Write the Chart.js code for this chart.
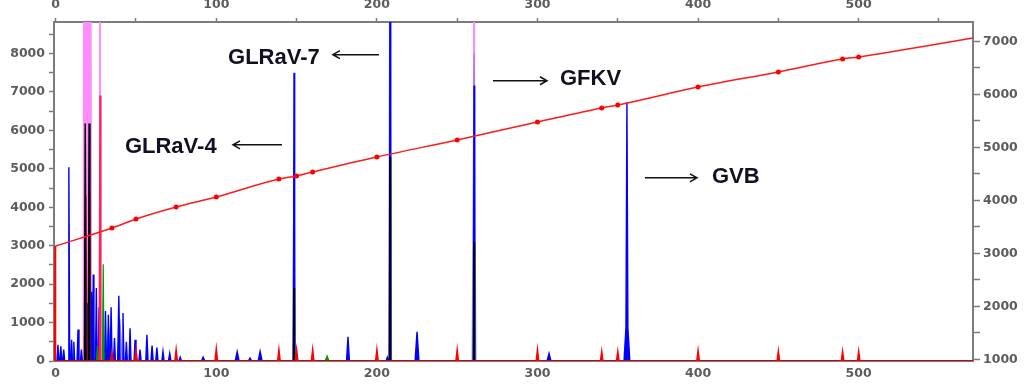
<!DOCTYPE html>
<html>
<head>
<meta charset="utf-8">
<script src="https://cdn.jsdelivr.net/npm/chart.js@4.4.1/dist/chart.umd.min.js"></script>
<style>
  html, body { margin: 0; padding: 0; background: #fff; overflow: hidden; }
  #wrap { position: relative; width: 1036px; height: 384px; overflow: hidden; }
  canvas { position: absolute; left: 0; top: -5px; }
</style>
</head>
<body>
<div id="wrap"><canvas id="cv" width="1036" height="389"></canvas></div>
<script>
// size standard fragments (bp) and the scan where each was seen
const sizeStd = [35, 50, 75, 100, 139, 150, 160, 200, 250, 300, 340, 350, 400, 450, 490, 500];
const sizeScan = [3477, 3647, 3874, 4062, 4402, 4460, 4534, 4817, 5138, 5477, 5742, 5798, 6138, 6421, 6666, 6704];
const stdHeight = [230, 300, 300, 320, 300, 300, 300, 300, 300, 300, 250, 250, 280, 260, 250, 260];
const curveStart = [0, 3138];
const curveEnd = [571, 7062];

// peaks: [size bp, height rfu, half width bp]
const bluePeaks = [
  [1.4, 420, 0.6], [3.2, 380, 0.6], [5.0, 300, 0.6], [8.2, 5040, 0.5],
  [9.9, 550, 0.5], [11.3, 500, 0.5], [13.9, 820, 0.6], [16.0, 300, 0.6],
  [19.8, 1500, 0.5], [22.3, 1800, 0.5], [23.4, 2250, 0.4], [25.3, 1900, 0.5],
  [27.0, 1400, 0.5], [31.0, 1300, 0.6], [32.8, 1200, 0.5], [34.5, 1400, 0.6],
  [36.6, 600, 0.6], [39.3, 1700, 0.7], [41.9, 1250, 0.6], [44.0, 500, 0.6],
  [46.3, 850, 0.6], [49.4, 550, 0.6], [52.5, 300, 0.7], [56.8, 680, 0.7],
  [60.0, 400, 0.7], [63.0, 350, 0.7], [66.8, 250, 0.7], [71.0, 200, 0.8],
  [77.5, 100, 0.8], [91.8, 100, 1.0], [113.0, 240, 1.2], [121.0, 80, 1.0],
  [127.3, 250, 1.2], [148.4, 7500, 0.4], [182.0, 630, 0.9], [206.5, 100, 0.8],
  [208.2, 12000, 0.4], [225.0, 760, 1.2], [260.5, 7170, 0.4], [307.2, 200, 1.2],
  [355.7, 6730, 0.7], [355.7, 1300, 1.8]
];
const blueHaloPeaks = [
  [148.4, 5140, 0.9], [208.2, 12000, 0.9], [260.5, 8000, 1.2], [23.0, 1500, 1.5], [33.0, 900, 2.0],
  [40.0, 1100, 1.5]
];
const blackPeaks = [
  [18.4, 6180, 0.5], [20.8, 6180, 0.5], [148.4, 1900, 0.3], [208.2, 5300, 0.3], [260.5, 3090, 0.3]
];
const greenPeaks = [
  [20.5, 300, 0.6], [26.0, 400, 0.6], [29.6, 2520, 0.5], [169.0, 130, 1.2], [260.5, 900, 0.3]
];
const primerPeaks = [
  [18.8, 4310, 0.6], [21.0, 4310, 0.6], [27.6, 6910, 0.5]
];
const pinkPeaks = [
  [18.4, 40000, 1.2], [21.0, 40000, 1.2], [27.4, 40000, 0.4], [260.5, 40000, 0.2]
];
const redExtra = [[-0.4, 3000, 0.3]];

// axis ticks
const bottomTicks = [0, 100, 200, 300, 400, 500];
const topTicks = [0, 50, 100, 150, 200, 250, 300, 350, 400, 450, 500, 550];
const topLabels = [0, 100, 200, 300, 400, 500];
const leftTicks = [0, 500, 1000, 1500, 2000, 2500, 3000, 3500, 4000, 4500, 5000, 5500, 6000, 6500, 7000, 7500, 8000, 8500];
const leftLabels = [0, 1000, 2000, 3000, 4000, 5000, 6000, 7000, 8000];
const rightTicks = [1000, 1500, 2000, 2500, 3000, 3500, 4000, 4500, 5000, 5500, 6000, 6500, 7000];
const rightLabels = [1000, 2000, 3000, 4000, 5000, 6000, 7000];

const virusNames = ['GLRaV-7', 'GLRaV-4', 'GFKV', 'GVB'];

function trace(peaks) {
  let pts = [{x: -2, y: 0}];
  peaks.slice().sort((a, b) => a[0] - b[0]).forEach(p => {
    pts.push({x: p[0] - p[2], y: 0}, {x: p[0], y: p[1]}, {x: p[0] + p[2], y: 0});
  });
  pts.push({x: 580, y: 0});
  return pts;
}

function peakSet(label, peaks, color, order, bw) {
  return {
    label: label,
    data: trace(peaks),
    borderColor: color,
    backgroundColor: color,
    borderWidth: bw,
    fill: 'origin',
    pointRadius: 0,
    tension: 0,
    order: order,
    xAxisID: 'x',
    yAxisID: 'y'
  };
}

let stdPeaks = sizeStd.map((s, i) => [s, stdHeight[i], 0.8]).concat(redExtra);

let curvePts = [{x: curveStart[0], y: curveStart[1]}];
sizeStd.forEach((s, i) => curvePts.push({x: s, y: sizeScan[i]}));
curvePts.push({x: curveEnd[0], y: curveEnd[1]});
let curveRadius = curvePts.map((p, i) => (i === 0 || i === curvePts.length - 1) ? 0 : 2.5);

// where the virus labels and arrows sit (data units of x / left y)
const notes = [
  {text: 0, at: [107.3, 7890], from: [201.3, 7970], to: [172.6, 7970]},
  {text: 1, at: [43.1, 5573], from: [140.9, 5625], to: [110.4, 5625]},
  {text: 2, at: [314.0, 7344], from: [272.3, 7292], to: [305.9, 7292]},
  {text: 3, at: [408.6, 4792], from: [366.9, 4766], to: [399.3, 4766]}
];

const notePlugin = {
  id: 'notes',
  afterDraw(chart) {
    const ctx = chart.ctx;
    const sx = chart.scales.x, sy = chart.scales.y;
    ctx.save();
    ctx.fillStyle = '#111122';
    ctx.strokeStyle = '#111111';
    ctx.lineWidth = 1.5;
    ctx.font = 'bold 22px "Liberation Sans", Arial, sans-serif';
    ctx.textBaseline = 'middle';
    notes.forEach(n => {
      ctx.fillText(virusNames[n.text], sx.getPixelForValue(n.at[0]), sy.getPixelForValue(n.at[1]));
      const x1 = sx.getPixelForValue(n.from[0]), y1 = sy.getPixelForValue(n.from[1]);
      const x2 = sx.getPixelForValue(n.to[0]), y2 = sy.getPixelForValue(n.to[1]);
      const dir = x2 > x1 ? 1 : -1;
      ctx.beginPath();
      ctx.moveTo(x1, y1);
      ctx.lineTo(x2, y2);
      ctx.moveTo(x2 - dir * 7, y2 - 4);
      ctx.lineTo(x2, y2);
      ctx.lineTo(x2 - dir * 7, y2 + 4);
      ctx.stroke();
    });
    ctx.restore();
  }
};

const tickFont = {family: '"DejaVu Sans", sans-serif', size: 12.5, weight: 'bold'};
const tickColor = '#5c5c5c';
const axisColor = '#7c7c7c';

function setTicks(list) {
  return function (axis) { axis.ticks = list.map(v => ({value: v})); };
}

new Chart(document.getElementById('cv').getContext('2d'), {
  type: 'line',
  data: {
    datasets: [
      {
        label: 'sizing',
        data: curvePts,
        borderColor: '#ff1a1a',
        backgroundColor: '#ff0000',
        borderWidth: 1.5,
        pointRadius: curveRadius,
        pointBorderWidth: 0,
        cubicInterpolationMode: 'monotone',
        fill: false,
        order: 0,
        xAxisID: 'x',
        yAxisID: 'y2'
      },
      peakSet('standard', stdPeaks, '#ff0000', 1, 1.5),
      peakSet('black', blackPeaks, '#000000', 2, 1.5),
      peakSet('primer', primerPeaks, '#ff1f5a', 3, 1.5),
      peakSet('green', greenPeaks, '#009a00', 4, 1.2),
      peakSet('blue', bluePeaks, '#0000ff', 5, 1.4),
      peakSet('blue halo', blueHaloPeaks, 'rgba(110,110,255,0.7)', 6, 1.2),
      peakSet('pink', pinkPeaks, '#ff8cff', 7, 1.5)
    ]
  },
  options: {
    responsive: false,
    animation: false,
    devicePixelRatio: 1,
    layout: {padding: 0},
    plugins: {legend: {display: false}, tooltip: {enabled: false}},
    scales: {
      x: {
        type: 'linear', position: 'bottom', min: -1.06, max: 571.2,
        afterBuildTicks: setTicks(bottomTicks),
        afterFit: s => { s.height = 23; },
        ticks: {font: tickFont, color: tickColor, padding: 5, maxRotation: 0, autoSkip: false},
        grid: {drawOnChartArea: false, drawTicks: false},
        border: {color: axisColor, width: 2}
      },
      x2: {
        type: 'linear', position: 'top', min: -1.06, max: 571.2,
        afterBuildTicks: setTicks(topTicks),
        afterFit: s => { s.height = 27; },
        ticks: {font: tickFont, color: tickColor, padding: 6, maxRotation: 0, autoSkip: false,
          callback: v => topLabels.includes(v) ? String(v) : ''},
        grid: {drawOnChartArea: false, tickLength: 4, tickColor: axisColor, tickWidth: 1.5},
        border: {color: axisColor, width: 2}
      },
      y: {
        type: 'linear', position: 'left', min: 0, max: 8820,
        afterBuildTicks: setTicks(leftTicks),
        afterFit: s => { s.width = 54; },
        ticks: {font: tickFont, color: tickColor, padding: 4, autoSkip: false,
          callback: v => leftLabels.includes(v) ? String(v) : ''},
        grid: {drawOnChartArea: false, tickLength: 5, tickColor: axisColor, tickWidth: 1.5},
        border: {color: axisColor, width: 2}
      },
      y2: {
        type: 'linear', position: 'right', min: 968, max: 7364,
        afterBuildTicks: setTicks(rightTicks),
        afterFit: s => { s.width = 63; },
        ticks: {font: tickFont, color: tickColor, padding: 3, autoSkip: false,
          callback: v => rightLabels.includes(v) ? String(v) : ''},
        grid: {drawOnChartArea: false, tickLength: 7, tickColor: axisColor, tickWidth: 1.5},
        border: {color: axisColor, width: 2}
      }
    }
  },
  plugins: [notePlugin]
});
</script>
</body>
</html>
